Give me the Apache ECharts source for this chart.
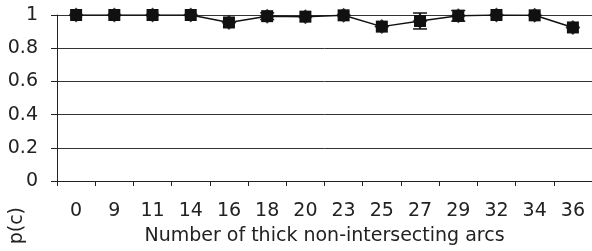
<!DOCTYPE html>
<html><head><meta charset="utf-8">
<script src="https://cdn.jsdelivr.net/npm/echarts@6/dist/echarts.min.js"></script>
<style>html,body{margin:0;padding:0;background:#fff}#c{width:592px;height:251px}</style>
</head><body><div id="c"></div>
<script>
const categories = ['0','9','11','14','16','18','20','23','25','27','29','32','34','36'];
const values = [1.0, 1.0, 1.0, 1.0, 0.955, 0.993, 0.99, 0.998, 0.93, 0.964, 0.995, 1.0, 0.998, 0.925];
const errors = [0, 0, 0, 0, 0, 0.02, 0, 0, 0, 0.048, 0.032, 0, 0, 0];
const yTicks = [0, 0.2, 0.4, 0.6, 0.8, 1];
const xTitle = 'Number of thick non-intersecting arcs';
const yTitle = 'p(c)';

const FONT = 'DejaVu Sans';
const FS = 19;
const chart = echarts.init(document.getElementById('c'), null, {renderer: 'canvas'});
const errData = categories.map((c, i) => [i, values[i] - errors[i], values[i] + errors[i]]);
chart.setOption({
  animation: false,
  grid: {left: 57, top: 15, width: 538, height: 167},
  xAxis: {
    type: 'category', data: categories, boundaryGap: true,
    axisLine: {lineStyle: {color: '#222', width: 1}},
    axisTick: {show: true, length: 5, inside: false, alignWithLabel: false, lineStyle: {color: '#222'}},
    axisLabel: {color: '#222', fontFamily: FONT, fontSize: FS, margin: 21},
    name: xTitle, nameLocation: 'middle', nameGap: 46,
    nameTextStyle: {color: '#222', fontFamily: FONT, fontSize: FS}
  },
  yAxis: {
    type: 'value', min: 0, max: 1, interval: 0.2,
    axisLine: {show: true, lineStyle: {color: '#222', width: 1}},
    axisTick: {show: true, length: 6, lineStyle: {color: '#222'}},
    axisLabel: {color: '#222', fontFamily: FONT, fontSize: FS, margin: 19,
      formatter: v => { const t = yTicks.find(k => Math.abs(k - v) < 1e-9); return t === undefined ? '' : String(t); }},
    splitLine: {show: true, lineStyle: {color: '#333', width: 1}}
  },
  graphic: [{
    type: 'text', left: 8, top: 207, rotation: Math.PI / 2,
    style: {text: yTitle, font: FS + 'px "' + FONT + '"', fill: '#222'}
  }],
  series: [
    {
      type: 'custom', data: errData, z: 3,
      renderItem: (params, api) => {
        const lo = api.coord([api.value(0), api.value(1)]);
        const hi = api.coord([api.value(0), api.value(2)]);
        if (Math.abs(hi[1] - lo[1]) < 0.5) return null;
        const w = 7;
        const st = {stroke: '#111', lineWidth: 1.5};
        return {type: 'group', children: [
          {type: 'line', shape: {x1: lo[0], y1: lo[1], x2: hi[0], y2: hi[1]}, style: st},
          {type: 'line', shape: {x1: lo[0] - w, y1: lo[1], x2: lo[0] + w, y2: lo[1]}, style: st},
          {type: 'line', shape: {x1: hi[0] - w, y1: hi[1], x2: hi[0] + w, y2: hi[1]}, style: st}
        ]};
      }
    },
    {
      type: 'line', data: values, symbol: 'rect', symbolSize: 12, z: 4,
      lineStyle: {color: '#111', width: 1.5},
      itemStyle: {color: '#111'}
    },
    {
      type: 'scatter', data: values, symbol: 'diamond', symbolSize: 15, z: 5,
      itemStyle: {color: '#111'}
    }
  ]
});
</script></body></html>
